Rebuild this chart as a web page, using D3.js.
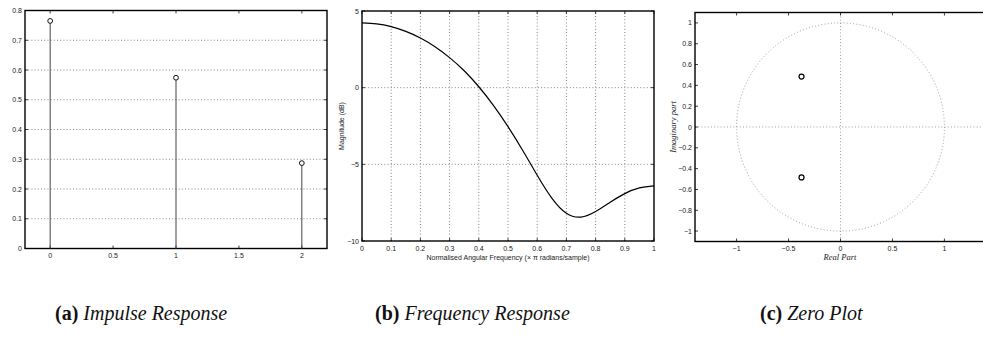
<!DOCTYPE html>
<html>
<head>
<meta charset="utf-8">
<script src="https://cdn.jsdelivr.net/npm/d3@7"></script>
<style>
  html, body { margin: 0; padding: 0; background: #fff; }
  svg { display: block; }
  .tick-label { font-family: "Liberation Sans", Arial, sans-serif; font-size: 7px; fill: #222; }
  .axis-title { font-family: "Liberation Sans", Arial, sans-serif; font-size: 7px; fill: #222; }
  .serif-title { font-family: "Liberation Serif", "Times New Roman", serif; font-style: italic; font-size: 8.5px; fill: #222; }
  .caption { font-family: "Liberation Serif", "Times New Roman", serif; font-size: 20px; fill: #111; }
</style>
</head>
<body>
<svg id="fig" width="983" height="338"></svg>
<script>
// Impulse response of the 3-tap FIR filter
const impulseN = [0, 1, 2];
const impulseH = [0.765, 0.574, 0.287];

// Magnitude response (dB) against normalised angular frequency (x pi rad/sample)
const freqW = [0, 0.05, 0.1, 0.15, 0.2, 0.25, 0.3, 0.35, 0.4, 0.45, 0.5,
               0.55, 0.6, 0.65, 0.7, 0.75, 0.8, 0.85, 0.9, 0.95, 1];
const freqMagDb = [4.22, 4.16, 3.98, 3.67, 3.24, 2.67, 1.96, 1.10, 0.06, -1.15, -2.54,
                   -4.08, -5.71, -7.20, -8.19, -8.44, -8.07, -7.47, -6.91, -6.54, -6.41];

// Zeros of the transfer function
const zerosRe = [-0.375, -0.375];
const zerosIm = [0.484, -0.484];

// Tick values
const aXTicks = [0, 0.5, 1, 1.5, 2];
const aYTicks = [0, 0.1, 0.2, 0.3, 0.4, 0.5, 0.6, 0.7, 0.8];
const bXTicks = [0, 0.1, 0.2, 0.3, 0.4, 0.5, 0.6, 0.7, 0.8, 0.9, 1];
const bYTicks = [-10, -5, 0, 5];
const cXTicks = [-1, -0.5, 0, 0.5, 1];
const cYTicks = [-1, -0.8, -0.6, -0.4, -0.2, 0, 0.2, 0.4, 0.6, 0.8, 1];

// Sub-figure captions
const captionTags = ["(a)", "(b)", "(c)"];
const captionTitles = ["Impulse Response", "Frequency Response", "Zero Plot"];

const svg = d3.select("#fig");
const fmt = d3.format("~g");
const TICK = 3;

// Draws a boxed MATLAB-style axes with inward ticks on all four sides
function axesBox(g, x, y, xTicks, yTicks, opts) {
  const [x0, x1] = x.range();
  const [y0, y1] = y.range(); // y0 bottom, y1 top

  // grid
  if (opts.xGrid) {
    g.append("g").selectAll("line").data(opts.xGrid).join("line")
      .attr("x1", d => x(d)).attr("x2", d => x(d))
      .attr("y1", y0).attr("y2", y1)
      .attr("stroke", opts.gridColor || "#666").attr("stroke-width", 0.8)
      .attr("stroke-dasharray", "1,2.2");
  }
  if (opts.yGrid) {
    g.append("g").selectAll("line").data(opts.yGrid).join("line")
      .attr("x1", x0).attr("x2", x1)
      .attr("y1", d => y(d)).attr("y2", d => y(d))
      .attr("stroke", opts.gridColor || "#666").attr("stroke-width", 0.8)
      .attr("stroke-dasharray", "1,2.2");
  }

  // ticks on bottom/top
  const tk = g.append("g").attr("stroke", "#111").attr("stroke-width", 0.8);
  xTicks.forEach(t => {
    tk.append("line").attr("x1", x(t)).attr("x2", x(t)).attr("y1", y0).attr("y2", y0 - TICK);
    tk.append("line").attr("x1", x(t)).attr("x2", x(t)).attr("y1", y1).attr("y2", y1 + TICK);
  });
  yTicks.forEach(t => {
    tk.append("line").attr("x1", x0).attr("x2", x0 + TICK).attr("y1", y(t)).attr("y2", y(t));
    tk.append("line").attr("x1", x1).attr("x2", x1 - TICK).attr("y1", y(t)).attr("y2", y(t));
  });

  // tick labels
  g.append("g").selectAll("text").data(xTicks).join("text")
    .attr("class", "tick-label")
    .attr("x", d => x(d)).attr("y", y0 + 9.5)
    .attr("text-anchor", "middle")
    .text(d => fmt(d));
  g.append("g").selectAll("text").data(yTicks).join("text")
    .attr("class", "tick-label")
    .attr("x", x0 - 3).attr("y", d => y(d) + 2.5)
    .attr("text-anchor", "end")
    .text(d => fmt(d));

  // frame
  g.append("rect")
    .attr("x", x0).attr("y", y1)
    .attr("width", x1 - x0).attr("height", y0 - y1)
    .attr("fill", "none").attr("stroke", "#000").attr("stroke-width", 1.4);
}

// (a) Impulse response: stem plot
{
  const g = svg.append("g");
  const x = d3.scaleLinear().domain([-0.2, 2.2]).range([25, 327]);
  const y = d3.scaleLinear().domain([0, 0.8]).range([248.5, 10.5]);
  axesBox(g, x, y, aXTicks, aYTicks, { yGrid: aYTicks.slice(1, -1) });
  const stems = impulseN.map((n, i) => ({ n, h: impulseH[i] }));
  g.append("g").selectAll("line").data(stems).join("line")
    .attr("x1", d => x(d.n)).attr("x2", d => x(d.n))
    .attr("y1", y(0)).attr("y2", d => y(d.h))
    .attr("stroke", "#444").attr("stroke-width", 1);
  g.append("g").selectAll("circle").data(stems).join("circle")
    .attr("cx", d => x(d.n)).attr("cy", d => y(d.h)).attr("r", 2.4)
    .attr("fill", "#fff").attr("stroke", "#111").attr("stroke-width", 1);
}

// (b) Frequency response magnitude
{
  const g = svg.append("g");
  const x = d3.scaleLinear().domain([0, 1]).range([362, 654]);
  const y = d3.scaleLinear().domain([-10, 5]).range([241, 11]);
  axesBox(g, x, y, bXTicks, bYTicks, { xGrid: bXTicks.slice(1, -1), yGrid: bYTicks.slice(1, -1) });
  const pts = freqW.map((w, i) => [w, freqMagDb[i]]);
  g.append("path")
    .attr("d", d3.line().x(d => x(d[0])).y(d => y(d[1])).curve(d3.curveNatural)(pts))
    .attr("fill", "none").attr("stroke", "#000").attr("stroke-width", 1.2);
  g.append("text").attr("class", "axis-title")
    .attr("x", 508).attr("y", 259.5).attr("text-anchor", "middle")
    .text("Normalised Angular Frequency (\u00d7 \u03c0 radians/sample)");
  g.append("text").attr("class", "axis-title")
    .attr("transform", "translate(344,126) rotate(-90)").attr("text-anchor", "middle")
    .text("Magnitude (dB)");
}

// (c) Zero plot in the z-plane
{
  const g = svg.append("g");
  const x = d3.scaleLinear().domain([-1.4, 1.4]).range([695, 986]);
  const y = d3.scaleLinear().domain([-1.1, 1.1]).range([241.5, 12.5]);
  axesBox(g, x, y, cXTicks, cYTicks, { xGrid: [0], yGrid: [0], gridColor: "#888" });
  g.append("ellipse")
    .attr("cx", x(0)).attr("cy", y(0))
    .attr("rx", x(1) - x(0)).attr("ry", y(0) - y(1))
    .attr("fill", "none").attr("stroke", "#888").attr("stroke-width", 0.8)
    .attr("stroke-dasharray", "1,2.2");
  const zs = zerosRe.map((re, i) => ({ re, im: zerosIm[i] }));
  g.append("g").selectAll("circle").data(zs).join("circle")
    .attr("cx", d => x(d.re)).attr("cy", d => y(d.im)).attr("r", 2.5)
    .attr("fill", "none").attr("stroke", "#000").attr("stroke-width", 1.2);
  g.append("text").attr("class", "serif-title")
    .attr("x", 840).attr("y", 260).attr("text-anchor", "middle")
    .text("Real Part");
  g.append("text").attr("class", "serif-title")
    .attr("transform", "translate(676,127) rotate(-90)").attr("text-anchor", "middle")
    .text("Imaginary part");
}

// Captions under each panel
const capX = [55, 375, 760];
captionTags.forEach((tag, i) => {
  const t = svg.append("text").attr("class", "caption")
    .attr("x", capX[i]).attr("y", 320);
  t.append("tspan").attr("font-weight", "bold").text(tag);
  t.append("tspan").attr("font-style", "italic").text(" " + captionTitles[i]);
});
</script>
</body>
</html>
